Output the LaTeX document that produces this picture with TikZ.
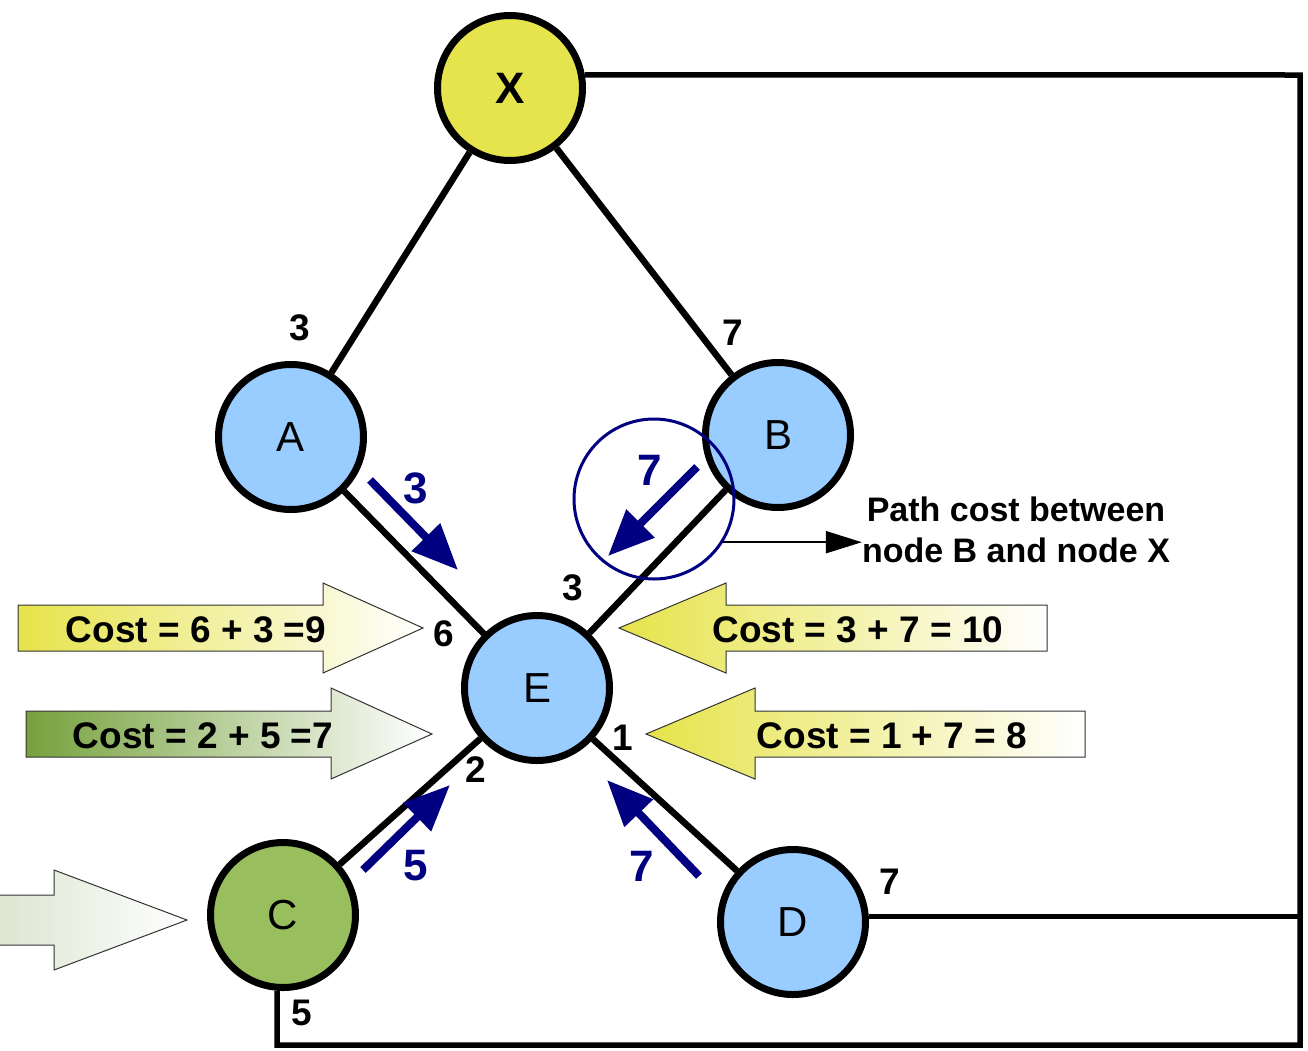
\documentclass[tikz,border=0pt]{standalone}
\usepackage{fontspec}
\setmainfont{Liberation Sans}
\usetikzlibrary{arrows.meta}
\definecolor{nodeblue}{HTML}{99CCFF}
\definecolor{nodegreen}{HTML}{98BE5E}
\definecolor{nodeyellow}{HTML}{E6E44C}
\definecolor{costyellow}{HTML}{E6E34A}
\definecolor{costgreen}{HTML}{76A13D}
\definecolor{palegreen}{HTML}{DCE5D0}
\tikzset{
  router/.style={circle, draw, line width=7pt, minimum size=145pt, inner sep=0pt, fill=nodeblue, font=\fontsize{42}{42}\selectfont},
  link/.style={line width=6.5pt},
  wire/.style={line width=5.5pt},
  weight/.style={inner sep=0pt, font=\fontsize{37}{37}\selectfont\bfseries},
  flowlabel/.style={inner sep=0pt, text=blue!50!black, font=\fontsize{44}{44}\selectfont\bfseries},
  flow/.style={draw=blue!50!black, line width=8pt, -{Triangle[length=46pt,width=38pt]}},
  fat/.style={draw=black!80, line width=1pt, right color=white},
  costtext/.style={inner sep=0pt, font=\fontsize{37}{37}\selectfont\bfseries}
}
\begin{document}
\begin{tikzpicture}[x=1pt, y=-1pt]
\useasboundingbox (0,0) rectangle (1308,1050);

% fat cost arrows
\draw[fat, left color=costyellow] (18,605) -- (323,605) -- (323,583) -- (423,628) -- (323,673) -- (323,651) -- (18,651) -- cycle;
\draw[fat, left color=costgreen] (26,711) -- (331,711) -- (331,688) -- (432,734) -- (331,779) -- (331,757) -- (26,757) -- cycle;
\draw[fat, left color=costyellow] (1047,605) -- (726,605) -- (726,583) -- (619,628) -- (726,673) -- (726,651) -- (1047,651) -- cycle;
\draw[fat, left color=costyellow] (1085,711) -- (755,711) -- (755,688) -- (646,734) -- (755,779) -- (755,757) -- (1085,757) -- cycle;
\draw[fat, left color=palegreen] (-5,895) -- (54,895) -- (54,870) -- (187,920) -- (54,970) -- (54,945) -- (-5,945) -- cycle;

\node[costtext] (c9) at (196,630) {Cost = 6 + 3 =9};
\node[costtext] (c7) at (203,736) {Cost = 2 + 5 =7};
\node[costtext] (c10) at (858,630) {Cost = 3 + 7 = 10};
\node[costtext] (c8) at (892,736) {Cost = 1 + 7 = 8};

% routers
\node[router, fill=nodeyellow, font=\fontsize{44}{44}\selectfont\bfseries] (X) at (510,88) {X};
\node[router] (A) at (291,437) {A};
\node[router] (B) at (778,435) {B};
\node[router] (E) at (537,688) {E};
\node[router, fill=nodegreen] (C) at (283,915) {C};
\node[router] (D) at (793,922) {D};

\draw[link] (X) -- (A);
\draw[link] (X) -- (B);
\draw[link] (A) -- (E);
\draw[link] (B) -- (E);
\draw[link] (C) -- (E);
\draw[link] (D) -- (E);

% outer loop
\coordinate (ne) at (1300,75);
\coordinate (se) at (1300,1045);
\coordinate (sw) at (277,1045);
\draw[wire] (X.10) -- (ne) -- (se) -- (sw) -- (sw |- C.south);
\draw[wire] (D.4) -- (D.4 -| se);

% link weights
\node[weight] (wA) at (300,328) {3};
\node[weight] (wB) at (733,333) {7};
\node[weight] (wEB) at (573,588) {3};
\node[weight] (wEA) at (444,634) {6};
\node[weight] (wEC) at (476,770) {2};
\node[weight] (wED) at (623,738) {1};
\node[weight] (wD) at (890,882) {7};
\node[weight] (wC) at (302,1013) {5};

% flows into E
\coordinate (f1s) at (370,480); \coordinate (f1e) at (458,570);
\coordinate (f2s) at (697,467); \coordinate (f2e) at (608,556);
\coordinate (f3s) at (363,870); \coordinate (f3e) at (450,785);
\coordinate (f4s) at (699,876); \coordinate (f4e) at (607,780);
\draw[flow] (f1s) -- (f1e);
\draw[flow] (f2s) -- (f2e);
\draw[flow] (f3s) -- (f3e);
\draw[flow] (f4s) -- (f4e);
\node[flowlabel] (l1) at (416,488) {3};
\node[flowlabel] (l2) at (650,470) {7};
\node[flowlabel] (l3) at (416,866) {5};
\node[flowlabel] (l4) at (642,866) {7};

% note
\node[circle, draw=blue!50!black, line width=3pt, minimum size=160pt, inner sep=0pt] (focus) at (654,499) {};
\node[inner sep=0pt, align=center, font=\fontsize{34}{41}\selectfont\bfseries] (note) at (1016,530) {Path cost between\\node B and node X};
\draw[line width=2pt, -{Triangle[length=36pt,width=22pt]}] (focus.-32) -- (focus.-32 -| note.west);
\end{tikzpicture}
\end{document}
